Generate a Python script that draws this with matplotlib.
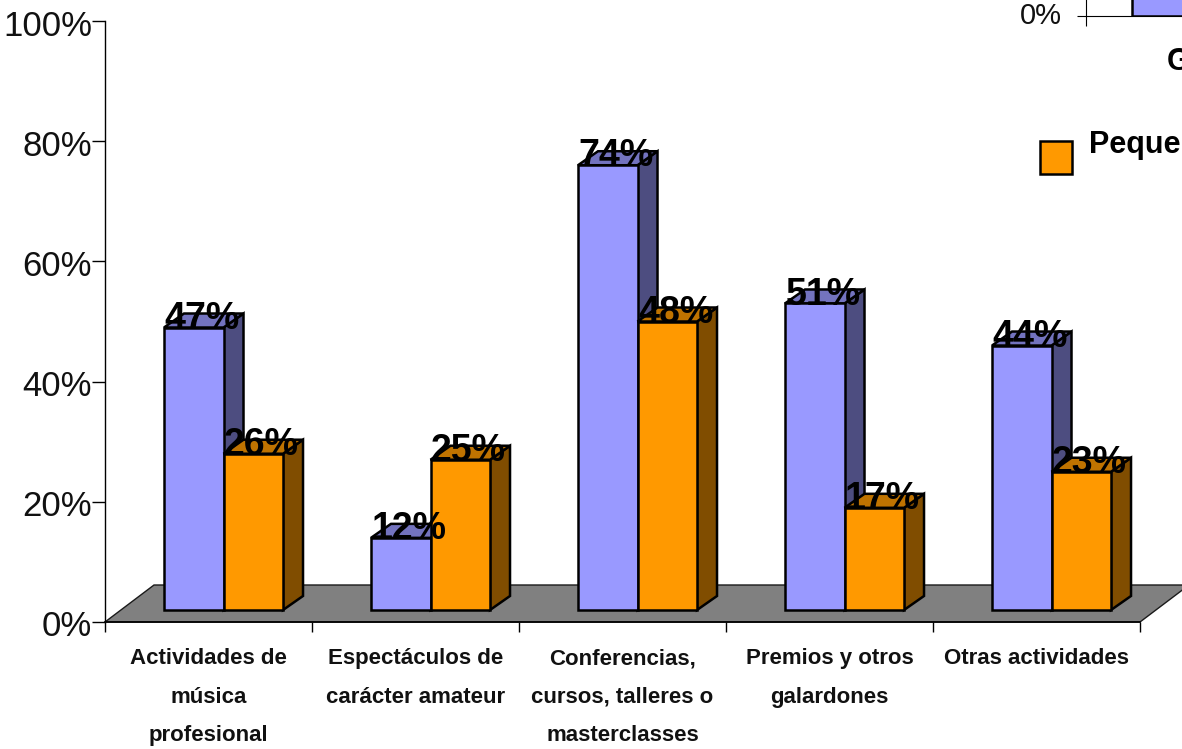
import matplotlib
matplotlib.use('Agg')
import matplotlib.pyplot as plt
from matplotlib.patches import Polygon, Rectangle
from matplotlib.transforms import ScaledTranslation

plt.rcParams['font.family'] = ['Liberation Sans', 'DejaVu Sans']

categories = ['Actividades de\nmúsica\nprofesional',
              'Espectáculos de\ncarácter amateur',
              'Conferencias,\ncursos, talleres o\nmasterclasses',
              'Premios y otros\ngalardones',
              'Otras actividades']
grandes = [47, 12, 74, 51, 44]
pequenas = [26, 25, 48, 17, 23]
y_ticks = [0, 20, 40, 60, 80, 100]

W, H = 1182, 749
BLUE = ('#9999FF', '#7373BF', '#4D4D80')
ORANGE = ('#FF9900', '#BF7300', '#804D00')

# oblique offsets, in category units and percent
FLOOR_DX, FLOOR_DY = 49 / 207, 37 / 6.01
BAR_DX, BAR_DY = 20 / 207, 14 / 6.01
BAR_BASE = 2.0
BAR_W = 0.2875
BAR_START = 0.285


def box(ax, x, value, colors):
    # front, top and side faces of one column
    y0 = BAR_BASE
    y1 = BAR_BASE + value
    side = [(x + BAR_W, y0), (x + BAR_W + BAR_DX, y0 + BAR_DY),
            (x + BAR_W + BAR_DX, y1 + BAR_DY), (x + BAR_W, y1)]
    top = [(x, y1), (x + BAR_DX, y1 + BAR_DY),
           (x + BAR_W + BAR_DX, y1 + BAR_DY), (x + BAR_W, y1)]
    front = [(x, y0), (x + BAR_W, y0), (x + BAR_W, y1), (x, y1)]
    for pts, c in ((side, colors[2]), (top, colors[1]), (front, colors[0])):
        ax.add_patch(Polygon(pts, closed=True, facecolor=c, edgecolor='black',
                             linewidth=1.8, joinstyle='miter', zorder=3,
                             clip_on=False))
    ax.text(x + (BAR_W + BAR_DX) / 2 - 0.008, y1 - 0.2, f'{value}%', ha='center',
            va='baseline', fontsize=27, fontweight='bold', color='black',
            zorder=5, clip_on=False)


fig = plt.figure(figsize=(W / 100, H / 100), dpi=100)
ax = fig.add_axes([105 / W, (H - 622) / H, 1035 / W, 601 / H])
ax.set_xlim(0, 5)
ax.set_ylim(0, 100)
ax.patch.set_alpha(0)

# floor of the 3D plot
ax.add_patch(Polygon([(0, 0), (5, 0), (5 + FLOOR_DX, FLOOR_DY), (FLOOR_DX, FLOOR_DY)],
                     closed=True, facecolor='#808080', edgecolor='#1a1a1a',
                     linewidth=1.0, zorder=1, clip_on=False))

for i in range(len(categories)):
    box(ax, i + BAR_START, grandes[i], BLUE)
    box(ax, i + BAR_START + BAR_W, pequenas[i], ORANGE)

for s in ('top', 'right'):
    ax.spines[s].set_visible(False)
ax.spines['left'].set_linewidth(1.0)
ax.spines['bottom'].set_linewidth(1.2)
ax.spines['left'].set_zorder(2)
ax.spines['bottom'].set_zorder(2)

ax.set_yticks(y_ticks)
ax.set_yticklabels([f'{t}%' for t in y_ticks], fontsize=25, color='#111111')
ax.tick_params(axis='y', length=9.4, width=1.0, pad=0)
shift_down = ScaledTranslation(0, -1.5 / 100, fig.dpi_scale_trans)
for label in ax.get_yticklabels():
    label.set_transform(label.get_transform() + shift_down)
ax.set_xticks(range(6))
ax.set_xticklabels([])
ax.tick_params(axis='x', which='major', length=7, width=1.0)

for i, label in enumerate(categories):
    ax.text(i + 0.5, -4.4, label, ha='center', va='top', fontsize=16,
            fontweight='bold', linespacing=2.08, color='#111111', clip_on=False)

# legend fragments at the right edge
fig.patches.append(Rectangle((1040 / W, (H - 174) / H), 32 / W, 33 / H,
                             transform=fig.transFigure, facecolor=ORANGE[0],
                             edgecolor='black', linewidth=1.8))
fig.text(1089 / W, 1 - 153 / H, 'Peque', fontsize=22, fontweight='bold',
         ha='left', va='baseline')
fig.text(1167 / W, 1 - 70 / H, 'G', fontsize=22, fontweight='bold',
         ha='left', va='baseline')

# bottom of the smaller chart above
inset = fig.add_axes([1086 / W, (H - 16) / H, 96 / W, 16 / H])
inset.set_xlim(0, 1)
inset.set_ylim(0, 10)
inset.patch.set_alpha(0)
inset.bar([0.48], [grandes[0]], width=1.0, align='edge', color=BLUE[0],
          edgecolor='black', linewidth=1.8)
for s in ('top', 'right'):
    inset.spines[s].set_visible(False)
inset.set_yticks([0])
inset.set_yticklabels(['0%'], fontsize=21, color='#111111')
inset.set_xticks([0])
inset.set_xticklabels([])
inset.tick_params(axis='y', length=6.5, width=0.8, pad=11)
inset.tick_params(axis='x', length=7, width=0.8)
# tick_params resets label transforms, so this has to come after it
shift_up = ScaledTranslation(0, 3.5 / 100, fig.dpi_scale_trans)
for label in inset.get_yticklabels():
    label.set_transform(label.get_transform() + shift_up)

fig.savefig('out.png', dpi=100)
